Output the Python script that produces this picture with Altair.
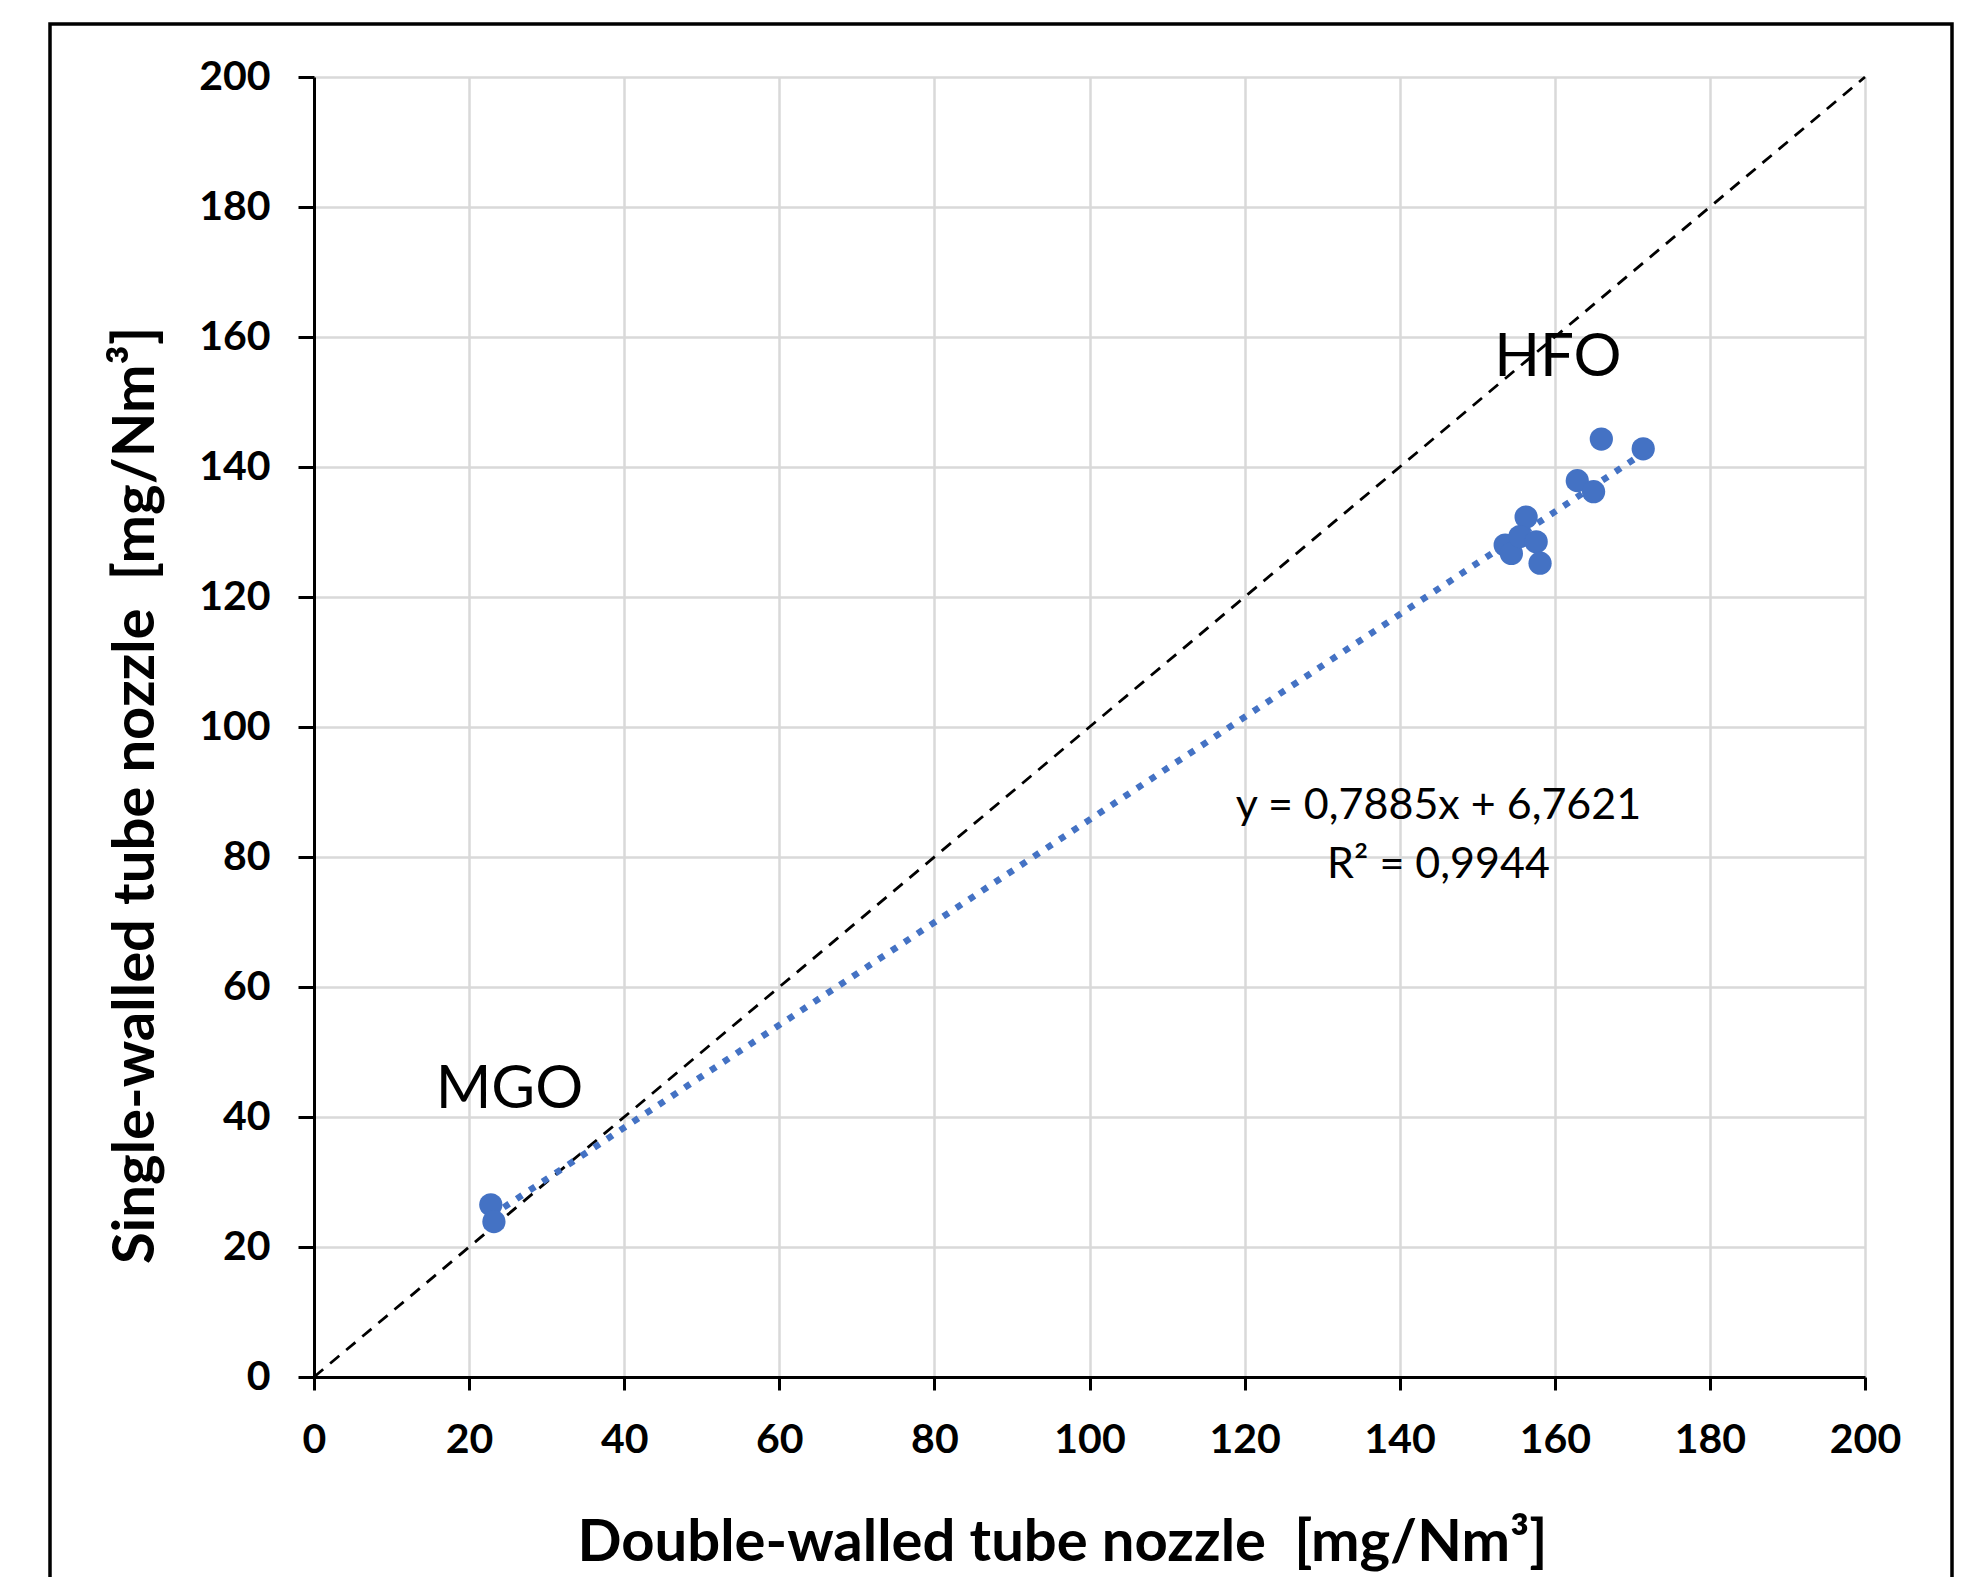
import altair as alt
import pandas as pd

# --- data ---
hfo_x = [166.0, 171.4, 162.9, 165.0, 156.3, 153.6, 154.4, 155.5, 157.6, 158.1]
hfo_y = [144.3, 142.8, 137.9, 136.2, 132.3, 128.0, 126.7, 129.3, 128.5, 125.2]
mgo_x = [22.8, 23.2]
mgo_y = [26.5, 23.9]

ident_x = [0, 200]
ident_y = [0, 200]

ticks = [0, 20, 40, 60, 80, 100, 120, 140, 160, 180, 200]

lbl_text = ["HFO", "MGO"]
lbl_x = [160.4, 25.2]
lbl_y = [156.8, 44.2]

eq_text = ["y = 0,7885x + 6,7621", "R² = 0,9944"]
eq_x = [145.0, 145.0]
eq_y = [87.9, 78.8]

FONT = "Lato"
BLUE = "#4472C4"

pts = pd.DataFrame({"x": hfo_x + mgo_x, "y": hfo_y + mgo_y})
ident = pd.DataFrame({"x": ident_x, "y": ident_y})
labels = pd.DataFrame({"t": lbl_text, "x": lbl_x, "y": lbl_y})
eqs = pd.DataFrame({"t": eq_text, "x": eq_x, "y": eq_y})

xscale = alt.Scale(domain=[0, 200], nice=False, zero=False)
yscale = alt.Scale(domain=[0, 200], nice=False, zero=False)

xaxis = alt.Axis(
    values=ticks, title="Double-walled tube nozzle \u00a0[mg/Nm³]",
    titleX=748, titleY=166, titleBaseline="middle", titleAlign="center",
    labelPadding=30, tickSize=13, labelFlush=False,
)
yaxis = alt.Axis(
    values=ticks, title="Single-walled tube nozzle \u00a0[mg/Nm³]",
    titleX=-178, titleY=718, titleBaseline="middle", titleAlign="center", titleAngle=-90,
    labelPadding=28, tickSize=16, labelFlush=False,
)

frame = alt.Chart(pd.DataFrame({"a": [0]})).mark_rect(
    fillOpacity=0, stroke="black", strokeWidth=3.5
).encode(
    x=alt.value(-264), x2=alt.value(1638), y=alt.value(-53), y2=alt.value(1540)
)

identity = alt.Chart(ident).mark_line(
    color="black", strokeWidth=2.8, strokeDash=[12, 9]
).encode(
    x=alt.X("x:Q", scale=xscale, axis=xaxis),
    y=alt.Y("y:Q", scale=yscale, axis=yaxis),
)

trend = alt.Chart(pts).transform_regression("x", "y").mark_line(
    color=BLUE, strokeWidth=6.5, strokeDash=[6.5, 9], strokeCap="butt"
).encode(
    x=alt.X("x:Q", scale=xscale),
    y=alt.Y("y:Q", scale=yscale),
)

points = alt.Chart(pts).mark_circle(size=540, color=BLUE, opacity=1).encode(
    x=alt.X("x:Q", scale=xscale),
    y=alt.Y("y:Q", scale=yscale),
)

lbl = alt.Chart(labels).mark_text(
    font=FONT, fontSize=60, color="black", align="center", baseline="middle"
).encode(
    x=alt.X("x:Q", scale=xscale), y=alt.Y("y:Q", scale=yscale), text="t:N"
)

eq = alt.Chart(eqs).mark_text(
    font=FONT, fontSize=43, color="black", align="center", baseline="middle"
).encode(
    x=alt.X("x:Q", scale=xscale), y=alt.Y("y:Q", scale=yscale), text="t:N"
)

chart = alt.layer(frame, identity, trend, points, lbl, eq).properties(
    width=1551, height=1300,
    autosize=alt.AutoSizeParams(type="none"),
    padding={"left": 306, "top": 69, "right": 105, "bottom": 200},
    background="white",
).configure_view(stroke=None).configure_axis(
    domainColor="black", domainWidth=3,
    tickColor="black", tickWidth=3,
    gridColor="#d9d9d9", gridWidth=2.5,
    labelFont=FONT, labelFontWeight="bold", labelFontSize=41, labelColor="black",
    titleFont=FONT, titleFontWeight="bold", titleFontSize=58, titleColor="black",
)

chart.save("out.html", embed_options={"renderer": "svg", "actions": False})
